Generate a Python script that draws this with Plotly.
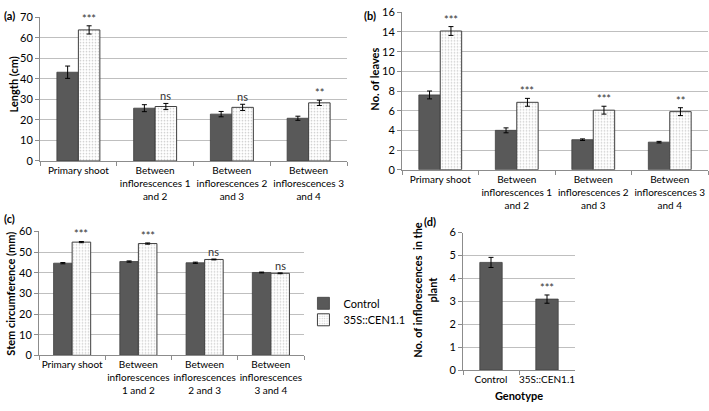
import plotly.graph_objects as go

# ---------------- data ----------------
cats_ab = ["Primary shoot", "Between<br>inflorescences 1<br>and 2",
           "Between<br>inflorescences 2<br>and 3", "Between<br>inflorescences 3<br>and 4"]
cats_c = ["Primary shoot", "Between<br>inflorescences<br>1 and 2",
          "Between<br>inflorescences<br>2 and 3", "Between<br>inflorescences<br>3 and 4"]

len_ctrl = [43.2, 25.7, 22.8, 20.8]
len_ctrl_err = [3.0, 1.7, 1.3, 1.0]
len_cen = [63.8, 26.5, 26.1, 28.3]
len_cen_err = [2.0, 1.5, 1.5, 1.3]
len_sig = ["***", "ns", "ns", "**"]

leaf_ctrl = [7.6, 4.0, 3.05, 2.8]
leaf_ctrl_err = [0.4, 0.25, 0.08, 0.08]
leaf_cen = [14.1, 6.85, 6.05, 5.9]
leaf_cen_err = [0.45, 0.4, 0.4, 0.4]
leaf_sig = ["***", "***", "***", "**"]

circ_ctrl = [44.6, 45.4, 44.8, 40.1]
circ_ctrl_err = [0.3, 0.3, 0.3, 0.2]
circ_cen = [54.8, 54.1, 46.4, 39.7]
circ_cen_err = [0.3, 0.3, 0.2, 0.2]
circ_sig = ["***", "***", "ns", "ns"]

geno = ["Control", "35S::CEN1.1"]
infl = [4.7, 3.1]
infl_err = [0.22, 0.18]
infl_sig = ["", "***"]

FONT = "Lato"
DARK = "#595959"
EDGE = "#3f3f3f"
GRID = "#bfbfbf"
AXC = "#8c8c8c"
BARGAP = 0.44
W, H = 709, 411

fig = go.Figure()

panels = [
    ("x", "y", cats_ab, len_ctrl, len_ctrl_err, len_cen, len_cen_err, len_sig, True),
    ("x2", "y2", cats_ab, leaf_ctrl, leaf_ctrl_err, leaf_cen, leaf_cen_err, leaf_sig, False),
    ("x3", "y3", cats_c, circ_ctrl, circ_ctrl_err, circ_cen, circ_cen_err, circ_sig, False),
]

annotations = []
for xa, ya, cats, c, ce, t, te, sig, show in panels:
    fig.add_trace(go.Bar(
        x=cats, y=c, name="Control", xaxis=xa, yaxis=ya,
        marker=dict(color=DARK, line=dict(color=EDGE, width=0.8)),
        error_y=dict(type="data", array=ce, color="black", thickness=1, width=2.5),
        showlegend=show, legend="legend", offsetgroup="c"))
    fig.add_trace(go.Bar(
        x=cats, y=t, name="35S::CEN1.1", xaxis=xa, yaxis=ya,
        marker=dict(color="white", line=dict(color=EDGE, width=1),
                    pattern=dict(shape=".", fgcolor="#9a9a9a", bgcolor="white",
                                 size=3, solidity=0.25)),
        error_y=dict(type="data", array=te, color="black", thickness=1, width=2.5),
        showlegend=show, legend="legend2", offsetgroup="t"))
    for i, s in enumerate(sig):
        annotations.append(dict(
            x=i + (1 - BARGAP) / 4, y=t[i] + te[i], xref=xa, yref=ya,
            text=s, showarrow=False, yanchor="bottom", yshift=-1,
            font=dict(family=FONT, size=11, color="#333333")))

fig.add_trace(go.Bar(
    x=geno, y=infl, name="Inflorescences", xaxis="x4", yaxis="y4",
    marker=dict(color=DARK, line=dict(color=EDGE, width=0.8)),
    error_y=dict(type="data", array=infl_err, color="black", thickness=1, width=2.5),
    showlegend=False, width=0.4))
for i, s in enumerate(infl_sig):
    if s:
        annotations.append(dict(
            x=i, y=infl[i] + infl_err[i], xref="x4", yref="y4",
            text=s, showarrow=False, yanchor="bottom", yshift=-1,
            font=dict(family=FONT, size=11, color="#333333")))

# panel letters
for lab, px, py in [("(a)", 2, 9), ("(b)", 362, 9), ("(c)", 2, 218), ("(d)", 422, 221)]:
    annotations.append(dict(text="<b>" + lab + "</b>", x=px / W, y=1 - py / H,
                            xref="paper", yref="paper", showarrow=False,
                            xanchor="left", yanchor="middle",
                            font=dict(family=FONT, size=11, color="black")))

# y-axis titles
for txt, px, py in [("Length (cm)", 13, 80), ("No. of leaves", 375, 74),
                    ("Stem circumference (mm)", 11, 296),
                    ("No. of inflorescences  in the<br>plant", 425, 292)]:
    annotations.append(dict(text="<b>" + txt + "</b>", x=px / W, y=1 - py / H,
                            xref="paper", yref="paper", showarrow=False, textangle=-90,
                            xanchor="center", yanchor="middle",
                            font=dict(family=FONT, size=11, color="black")))


def xax(domain, anchor):
    return dict(domain=domain, anchor=anchor, type="category", showgrid=False,
                showline=True, linecolor=AXC, linewidth=1, ticks="outside",
                tickson="boundaries", ticklen=4, tickcolor=AXC,
                tickfont=dict(family=FONT, size=10, color="black"), tickangle=0,
                fixedrange=True)


def yax(domain, anchor, rng, dtick):
    return dict(domain=domain, anchor=anchor, range=rng, dtick=dtick, showgrid=True,
                gridcolor=GRID, gridwidth=1, showline=True, linecolor=AXC, linewidth=1,
                ticks="outside", ticklen=4, tickcolor=AXC, zeroline=False,
                tickfont=dict(family=FONT, size=11, color="black"),
                fixedrange=True)


fig.update_layout(
    width=W, height=H,
    margin=dict(l=0, r=0, t=0, b=0),
    paper_bgcolor="white", plot_bgcolor="white",
    barmode="group", bargap=BARGAP, bargroupgap=0,
    font=dict(family=FONT, size=11, color="black"),
    xaxis=xax([40 / W, 347 / W], "y"),
    yaxis=yax([1 - 159 / H, 1 - 10.5 / H], "x", [0, 70], 10),
    xaxis2=xax([402 / W, 708 / W], "y2"),
    yaxis2=yax([1 - 168 / H, 1 - 5.5 / H], "x2", [0, 16], 2),
    xaxis3=xax([39 / W, 304 / W], "y3"),
    yaxis3=yax([1 - 359.7 / H, 1 - 231.7 / H], "x3", [0, 60], 10),
    xaxis4=dict(xax([463 / W, 575 / W], "y4"),
                title=dict(text="<b>Genotype</b>", font=dict(family=FONT, size=11, color="black"),
                           standoff=8)),
    yaxis4=yax([1 - 375 / H, 1 - 233 / H], "x4", [0, 6], 1),
    legend=dict(x=0.428, y=1 - 306 / H, xanchor="left", yanchor="middle",
                bgcolor="rgba(0,0,0,0)", itemwidth=30,
                font=dict(family=FONT, size=11, color="black")),
    legend2=dict(x=0.428, y=1 - 323 / H, xanchor="left", yanchor="middle",
                 bgcolor="rgba(0,0,0,0)", itemwidth=30,
                 font=dict(family=FONT, size=11, color="black")),
    annotations=annotations,
)

fig.write_html("out.html", config={"displayModeBar": False},
               post_script="document.body.style.margin='0';")
